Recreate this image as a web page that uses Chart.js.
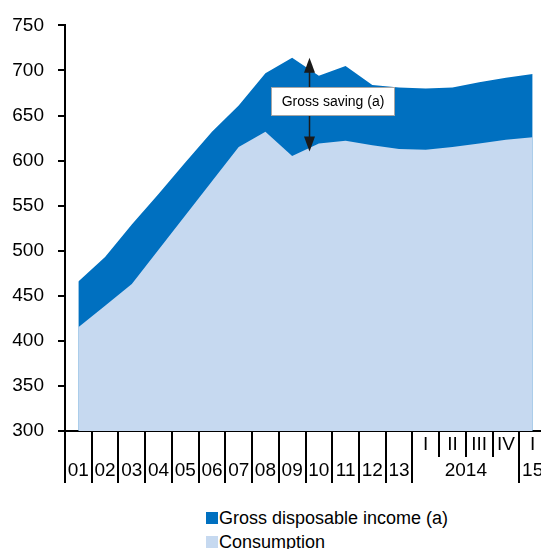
<!DOCTYPE html>
<html><head><meta charset="utf-8">
<script src="https://cdn.jsdelivr.net/npm/chart.js@4.4.1/dist/chart.umd.min.js"></script>
<style>
html,body{margin:0;padding:0;overflow:hidden;background:#fff;width:541px;height:549px;}
#wrap{position:relative;width:541px;height:549px;overflow:hidden;}
#c{position:absolute;left:0;top:0;}
.leg{position:absolute;font:18px "Liberation Sans",Arial,sans-serif;line-height:18px;color:#000;white-space:nowrap;}
.leg i{position:absolute;width:12px;height:12px;left:-13px;top:3px;}
</style></head>
<body><div id="wrap"><canvas id="c" width="546" height="490" style="width:546px;height:490px"></canvas><div id="legend"></div></div>
<script>
// ---- data ----
const yearLabels = ['01','02','03','04','05','06','07','08','09','10','11','12','13','2014','2014','2014','2014','15'];
const quarterLabels = ['','','','','','','','','','','','','','I','II','III','IV','I'];
const grossDisposableIncome = [466, 493, 529, 563, 598, 632, 661, 697, 714, 694, 705, 684, 681, 680, 681, 687, 692, 696];
const consumption = [415, 439, 463, 501, 539, 577, 615, 632, 605, 619, 622, 617, 613, 612, 615, 619, 623, 626];
const yTicks = [300, 350, 400, 450, 500, 550, 600, 650, 700, 750];
const seriesNames = ['Gross disposable income (a)', 'Consumption'];
const annotationText = 'Gross saving (a)';

const categories = yearLabels.map((y, i) => quarterLabels[i] ? y + ' ' + quarterLabels[i] : y);
const FONT = '"Liberation Sans", Arial, sans-serif';
const DARK = '#0070C0', LIGHT = '#C6D9F0';

// annotation placement (in data units on the chart's scales)
const savingArrow = {index: 8.65, from: 714, to: 610};
const savingLabel = {index: 9.5, value: 666};

const xAxisPlugin = {
  id: 'xAxisGroups',
  afterDraw(chart) {
    const xs = chart.scales.x, ys = chart.scales.y, ctx = chart.ctx;
    const y0 = ys.bottom;
    const n = yearLabels.length;
    ctx.save();
    ctx.strokeStyle = '#000';
    ctx.lineWidth = 2;
    for (let i = 0; i < n; i++) {
      const x = Math.round(xs.getPixelForValue(i - 0.5));
      const long = i === 0 || yearLabels[i] !== yearLabels[i - 1];
      ctx.beginPath();
      ctx.moveTo(x, y0);
      ctx.lineTo(x, y0 + (long ? 52 : 26));
      ctx.stroke();
    }
    ctx.fillStyle = '#000';
    ctx.font = '19px ' + FONT;
    ctx.textAlign = 'center';
    ctx.textBaseline = 'middle';
    for (let i = 0; i < n; i++) {
      if (quarterLabels[i]) ctx.fillText(quarterLabels[i], xs.getPixelForValue(i), y0 + 14);
    }
    let s = 0;
    for (let i = 1; i <= n; i++) {
      if (i === n || yearLabels[i] !== yearLabels[s]) {
        const cx = (xs.getPixelForValue(s) + xs.getPixelForValue(i - 1)) / 2;
        ctx.fillText(yearLabels[s], cx, y0 + 40);
        s = i;
      }
    }
    ctx.restore();
  }
};

const annotationPlugin = {
  id: 'savingAnnotation',
  afterDatasetsDraw(chart) {
    const xs = chart.scales.x, ys = chart.scales.y, ctx = chart.ctx;
    const ax = xs.getPixelForValue(savingArrow.index);
    const yTop = ys.getPixelForValue(savingArrow.from);
    const yBot = ys.getPixelForValue(savingArrow.to);
    ctx.save();
    ctx.strokeStyle = '#1a1a1a';
    ctx.fillStyle = '#1a1a1a';
    ctx.lineWidth = 1.5;
    ctx.beginPath();
    ctx.moveTo(ax, yTop + 12);
    ctx.lineTo(ax, yBot - 12);
    ctx.stroke();
    ctx.beginPath();
    ctx.moveTo(ax, yTop); ctx.lineTo(ax - 5.5, yTop + 15); ctx.lineTo(ax + 5.5, yTop + 15); ctx.closePath(); ctx.fill();
    ctx.beginPath();
    ctx.moveTo(ax, yBot); ctx.lineTo(ax - 5.5, yBot - 15); ctx.lineTo(ax + 5.5, yBot - 15); ctx.closePath(); ctx.fill();
    // label box
    ctx.font = '14px ' + FONT;
    const cx = xs.getPixelForValue(savingLabel.index);
    const cy = ys.getPixelForValue(savingLabel.value);
    const w = 123, h = 28;
    const bx = Math.round(cx - w / 2) + 0.5, by = Math.round(cy - h / 2) + 0.5;
    ctx.fillStyle = '#fff';
    ctx.fillRect(bx, by, w, h);
    ctx.strokeStyle = '#a6a6a6';
    ctx.lineWidth = 1;
    ctx.strokeRect(bx, by, w, h);
    ctx.fillStyle = '#000';
    ctx.textAlign = 'center';
    ctx.textBaseline = 'middle';
    ctx.fillText(annotationText, bx + w / 2, by + h / 2 + 1);
    ctx.restore();
  }
};

new Chart(document.getElementById('c'), {
  type: 'line',
  data: {
    labels: categories,
    datasets: [
      {label: seriesNames[0], data: grossDisposableIncome, fill: 'start', backgroundColor: DARK, borderColor: DARK, borderWidth: 0, pointRadius: 0, tension: 0, order: 1},
      {label: seriesNames[1], data: consumption, fill: 'start', backgroundColor: LIGHT, borderColor: LIGHT, borderWidth: 0, pointRadius: 0, tension: 0, order: 0}
    ]
  },
  options: {
    responsive: false,
    animation: false,
    devicePixelRatio: 1,
    layout: {padding: {top: 23, left: 0, right: 0, bottom: 0}},
    plugins: {legend: {display: false}, tooltip: {enabled: false}},
    scales: {
      x: {
        type: 'category',
        offset: true,
        ticks: {display: false},
        grid: {display: false},
        border: {display: true, color: '#000', width: 2},
        afterFit(scale) { scale.height = 59; }
      },
      y: {
        min: 300, max: 750,
        afterBuildTicks(scale) { scale.ticks = yTicks.map(v => ({value: v})); },
        ticks: {color: '#000', padding: 14, font: {family: FONT, size: 19}},
        grid: {drawOnChartArea: false, drawTicks: true, tickLength: 7, color: '#000', lineWidth: 2},
        border: {display: true, color: '#000', width: 2},
        afterFit(scale) { scale.width = 65; }
      }
    }
  },
  plugins: [xAxisPlugin, annotationPlugin]
});

// legend (HTML) built from the datasets
const legend = document.getElementById('legend');
const legendColors = [DARK, LIGHT];
const legendTops = [509, 533];
seriesNames.forEach((name, i) => {
  const d = document.createElement('div');
  d.className = 'leg';
  d.style.left = '219px';
  d.style.top = legendTops[i] + 'px';
  const sw = document.createElement('i');
  sw.style.background = legendColors[i];
  d.appendChild(sw);
  d.appendChild(document.createTextNode(name));
  legend.appendChild(d);
});
</script>
</body></html>
